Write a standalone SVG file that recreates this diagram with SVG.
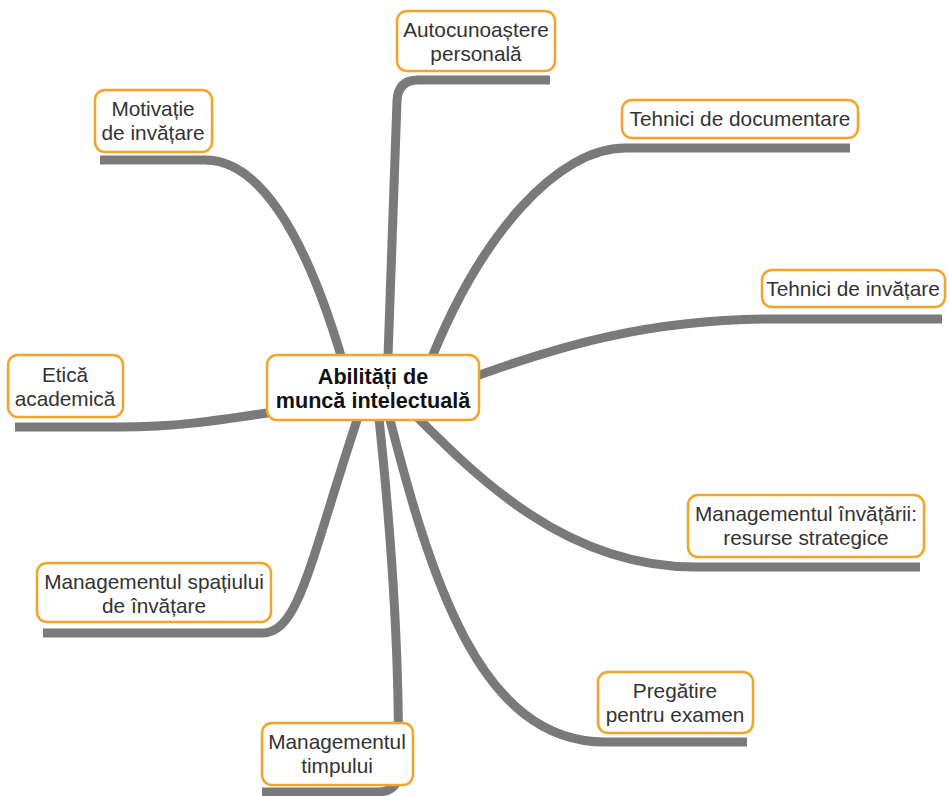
<svg xmlns="http://www.w3.org/2000/svg" width="948" height="796" viewBox="0 0 948 796">
<style>
.c{fill:none;stroke:#7a7a7a;stroke-width:9;stroke-linecap:butt;stroke-linejoin:round}
.b{fill:#fff;stroke:#f3a52a;stroke-width:2.5}
.t{font-family:"Liberation Sans",Arial,sans-serif;font-size:20.8px;fill:#333;text-anchor:middle}
.m{font-family:"Liberation Sans",Arial,sans-serif;font-size:21.6px;font-weight:bold;fill:#111;text-anchor:middle}
</style>
<rect width="948" height="796" fill="#fff"/>
<g id="connectors">
<path class="c" d="M100,160 H205 C265,160 312,250 348,380"/>
<path class="c" d="M550,80 H418 Q398,80 397,101 L387,385"/>
<path class="c" d="M850,148 H625 C560,148 480,230 425,375"/>
<path class="c" d="M942,319 H775 C650,319 560,345 460,382"/>
<path class="c" d="M15,427 H120 C180,427 220,420 280,411"/>
<path class="c" d="M400,400 C470,470 560,567 695,567 H920"/>
<path class="c" d="M385,400 C430,580 480,742 605,742 H747"/>
<path class="c" d="M377,400 C388,500 396,600 398,700 L399,770 Q399,792 377,792 H262"/>
<path class="c" d="M43,633 H262 C300,633 310,560 362,405"/>
</g>
<g id="center">
<rect class="b" x="267" y="355" width="212" height="65" rx="10"/>
<text class="m" x="373" y="384">Abilități de</text>
<text class="m" x="373" y="408">muncă intelectuală</text>
</g>
<g id="autocunoastere">
<rect class="b" x="397" y="11" width="158" height="60" rx="10"/>
<text class="t" x="476" y="37">Autocunoaștere</text>
<text class="t" x="476" y="61">personală</text>
</g>
<g id="motivatie">
<rect class="b" x="95" y="90" width="117" height="62" rx="10"/>
<text class="t" x="153" y="116">Motivație</text>
<text class="t" x="153" y="140">de invățare</text>
</g>
<g id="documentare">
<rect class="b" x="622" y="100" width="236" height="38" rx="10"/>
<text class="t" x="740" y="126">Tehnici de documentare</text>
</g>
<g id="tehnici-invatare">
<rect class="b" x="762" y="270" width="183" height="37" rx="10"/>
<text class="t" x="853" y="296">Tehnici de invățare</text>
</g>
<g id="etica">
<rect class="b" x="8" y="355" width="115" height="62" rx="10"/>
<text class="t" x="65" y="382">Etică</text>
<text class="t" x="65" y="406">academică</text>
</g>
<g id="management-invatare">
<rect class="b" x="688" y="495" width="236" height="62" rx="10"/>
<text class="t" x="806" y="521">Managementul învățării:</text>
<text class="t" x="806" y="545">resurse strategice</text>
</g>
<g id="management-spatiu">
<rect class="b" x="37" y="563" width="234" height="59" rx="10"/>
<text class="t" x="154" y="589">Managementul spațiului</text>
<text class="t" x="154" y="613">de învățare</text>
</g>
<g id="pregatire">
<rect class="b" x="598" y="672" width="155" height="61" rx="10"/>
<text class="t" x="675" y="698">Pregătire</text>
<text class="t" x="675" y="722">pentru examen</text>
</g>
<g id="management-timp">
<rect class="b" x="262" y="723" width="151" height="62" rx="10"/>
<text class="t" x="337" y="749">Managementul</text>
<text class="t" x="337" y="773">timpului</text>
</g>
</svg>
